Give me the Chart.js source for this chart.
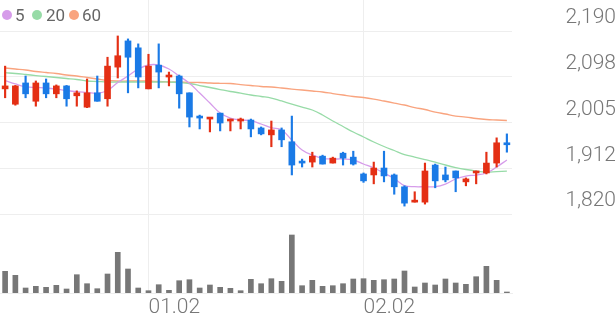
<!DOCTYPE html>
<html>
<head>
<meta charset="utf-8">
<script src="https://cdn.jsdelivr.net/npm/chart.js@4.4.0/dist/chart.umd.min.js"></script>
<style>
  html, body { margin: 0; padding: 0; background: #fff; }
  #wrap { position: relative; width: 616px; height: 321px; }
  #legend { position: absolute; left: 0; top: 0; font: 17px Roboto, sans-serif; color: #666; }
  .dot { position: absolute; top: 10px; width: 10px; height: 10px; border-radius: 50%; }
  .lbl { position: absolute; top: 4px; line-height: 22px; }
</style>
</head>
<body>
<div id="wrap">
  <canvas id="chart" width="616" height="321"></canvas>
  <div id="legend"></div>
</div>
<script>
// trading days, Dec 2022 - Feb 2023
const dates = ['12.12','12.13','12.14','12.15','12.16','12.19','12.20','12.21','12.22','12.23',
  '12.26','12.27','12.28','12.29','01.02','01.03','01.04','01.05','01.06','01.09',
  '01.10','01.11','01.12','01.13','01.16','01.17','01.18','01.19','01.20','01.25',
  '01.26','01.27','01.30','01.31','02.01','02.02','02.03','02.06','02.07','02.08',
  '02.09','02.10','02.13','02.14','02.15','02.16','02.17','02.20','02.21','02.22'];
const tickDates = ['01.02', '02.02'];

const opens  = [2073,2042,2085,2048,2085,2063,2079,2059,2036,2065,2053,2117,2170,2156,2073,2121,2097,2099,2065,2018,
  2012,2024,2008,2008,2010,1994,1980,1990,1966,1925,1925,1937,1923,1943,1935,1901,1899,1913,1899,1875,
  1844,1844,1919,1899,1907,1885,1903,1903,1923,1964];
const highs  = [2119,2080,2099,2089,2093,2081,2080,2069,2093,2099,2137,2180,2174,2164,2143,2164,2107,2101,2065,2020,
  2014,2024,2012,2014,2012,1996,2008,1994,2018,1931,1945,1939,1935,1945,1947,1903,1925,1947,1901,1877,
  1865,1923,1921,1915,1907,1893,1907,1945,1974,1982];
const lows   = [2055,2040,2055,2038,2055,2055,2038,2038,2035,2048,2038,2095,2065,2075,2073,2075,2079,2034,1996,1992,
  1986,1988,1988,1992,1976,1980,1956,1956,1899,1915,1915,1921,1923,1919,1919,1884,1881,1885,1860,1836,
  1844,1840,1873,1885,1865,1877,1881,1901,1915,1945];
const closes = [2079,2079,2063,2085,2063,2079,2053,2065,2065,2048,2119,2140,2137,2097,2119,2107,2101,2063,2016,2014,
  2014,2004,2010,2012,1992,1982,1990,1970,1919,1923,1937,1921,1933,1933,1921,1887,1913,1897,1875,1842,
  1848,1907,1887,1889,1893,1891,1905,1923,1964,1960];
const volumes = [21700,17700,5000,6700,5700,7700,4000,18300,9300,4300,19000,40700,24000,5000,2300,8300,2700,12300,13300,5000,
  8000,5700,4700,2300,13700,9300,14300,11700,58000,7300,12700,6700,7300,9300,14000,14300,12700,13300,14000,22000,
  6000,10000,8000,14000,10000,8700,16300,26700,12700,1000];

const ma5  = [2089.5,2082.9,2077.4,2075.8,2074.8,2072.7,2069.7,2067.3,2065.7,2064.0,2069.7,2085.9,2099.0,2113.2,2121.3,2121.3,2113.2,2099.0,2084.3,2064.6,
  2044.4,2024.2,2014.1,2010.1,2008.6,2002.0,1994.5,1989.8,1969.6,1949.4,1939.3,1932.6,1931.2,1931.2,1929.2,1921.1,1913.0,1902.9,1891.8,1877.6,
  1875.2,1875.2,1875.2,1880.6,1890.8,1896.8,1898.8,1902.9,1915.0,1929.2];
const ma20 = [2105.7,2104.1,2102.1,2100.0,2098.0,2096.0,2094.0,2092.0,2088.9,2087.9,2086.9,2086.9,2086.9,2086.9,2086.9,2086.9,2086.9,2085.9,2083.9,2079.8,
  2075.8,2071.7,2067.7,2064.6,2060.6,2057.6,2054.5,2048.5,2042.4,2036.3,2030.3,2020.2,2008.0,1996.9,1985.8,1975.7,1965.6,1956.5,1948.4,1940.3,
  1935.2,1930.2,1925.1,1919.1,1914.0,1910.0,1906.9,1904.9,1905.9,1906.9];
const ma60 = [2115.2,2113.2,2111.2,2108.1,2106.1,2104.1,2101.1,2099.0,2096.0,2093.0,2089.9,2088.9,2088.9,2088.9,2088.9,2087.9,2086.9,2086.9,2085.9,2085.9,
  2084.9,2084.3,2083.9,2081.8,2079.8,2077.8,2076.8,2074.8,2072.7,2070.7,2068.7,2066.7,2063.6,2060.6,2057.6,2055.6,2052.5,2048.5,2044.4,2040.4,
  2035.3,2031.3,2026.2,2022.2,2018.1,2016.1,2013.1,2011.1,2010.1,2009.1];

const priceTicks = [1820, 1912.5, 2005, 2097.5, 2190];
const priceTickLabels = ['1,820', '1,912', '2,005', '2,098', '2,190'];

const maNames = ['5', '20', '60'];
const maColors = ['#d69cea', '#97dba7', '#f9a47f'];

const UP = '#e42f14';
const DOWN = '#1a7ae6';
const GRID = '#eeeeee';
const TEXT = '#777777';

// legend
const legendPos = [[2, 15], [32, 46], [69, 82]];
const legend = document.getElementById('legend');
maNames.forEach((n, i) => {
  const d = document.createElement('span');
  d.className = 'dot';
  d.style.left = legendPos[i][0] + 'px';
  d.style.background = maColors[i];
  legend.appendChild(d);
  const t = document.createElement('span');
  t.className = 'lbl';
  t.style.left = legendPos[i][1] + 'px';
  t.textContent = n;
  legend.appendChild(t);
});

const bodies = opens.map((o, i) => [o, closes[i]]);
const wicks = lows.map((l, i) => [l, highs[i]]);
const candleColors = opens.map((o, i) => closes[i] >= o ? UP : DOWN);

Chart.defaults.font.family = 'Roboto';

const tickFont = { family: 'Roboto', size: 21, weight: 300 };

new Chart(document.getElementById('chart'), {
  type: 'bar',
  data: {
    labels: dates,
    datasets: [
      { type: 'bar', data: bodies, backgroundColor: candleColors, barThickness: 6, minBarLength: 2, grouped: false, order: 0 },
      { type: 'bar', data: wicks, backgroundColor: candleColors, barThickness: 1.5, grouped: false, order: 1 },
      { type: 'line', data: ma5, borderColor: maColors[0], borderWidth: 1.3, pointRadius: 0, tension: 0.4, order: 2 },
      { type: 'line', data: ma20, borderColor: maColors[1], borderWidth: 1.3, pointRadius: 0, tension: 0.4, order: 3 },
      { type: 'line', data: ma60, borderColor: maColors[2], borderWidth: 1.3, pointRadius: 0, tension: 0.4, order: 4 },
      { type: 'bar', data: volumes, yAxisID: 'yv', backgroundColor: '#777777', barThickness: 5, grouped: false, order: 5 }
    ]
  },
  options: {
    responsive: false,
    animation: false,
    layout: { padding: 0 },
    plugins: { legend: { display: false }, tooltip: { enabled: false } },
    scales: {
      x: {
        grid: { offset: false, color: GRID, drawTicks: false },
        border: { color: GRID },
        ticks: { align: 'start', padding: 2, color: TEXT, font: tickFont, maxRotation: 0, autoSkip: false },
        afterBuildTicks: s => { s.ticks = tickDates.map(d => ({ value: dates.indexOf(d) })); },
        afterFit: s => { s.height = 28; s.paddingLeft = 0; s.paddingRight = 0; }
      },
      y: {
        position: 'right',
        min: 1660.3,
        max: 2252.7,
        grid: { color: GRID, drawTicks: false },
        border: { display: false },
        ticks: {
          crossAlign: 'far', padding: 49, labelOffset: -13, color: TEXT, font: tickFont, autoSkip: false,
          callback: (v, i) => priceTickLabels[i]
        },
        afterBuildTicks: s => { s.ticks = priceTicks.map(v => ({ value: v })); },
        afterFit: s => { s.width = 104; s.paddingTop = 0; s.paddingBottom = 0; }
      },
      yv: { display: false, min: 0, max: 293000 }
    }
  }
});
</script>
</body>
</html>
